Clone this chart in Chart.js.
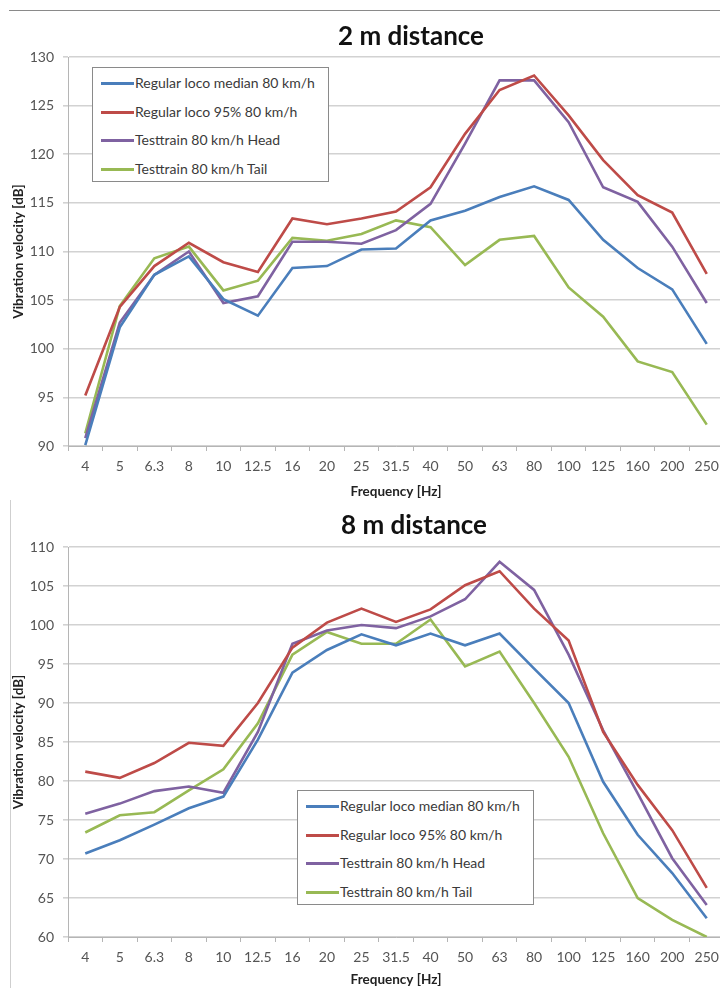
<!DOCTYPE html>
<html>
<head>
<meta charset="utf-8">
<script src="https://cdn.jsdelivr.net/npm/chart.js@4.4.1/dist/chart.umd.min.js"></script>
<style>
  body { margin: 0; width: 720px; height: 988px; overflow: hidden; background: #fff; position: relative; font-family: Lato, "Open Sans", sans-serif; }
  .panel { position: absolute; left: 0; width: 740px; }
  .title { position: absolute; width: 220px; text-align: center; font-weight: bold; font-size: 26px; line-height: 30px; color: #111; }
  .legend { position: absolute; width: 235px; height: 113px; border: 1px solid #8a8a8a; background: #fff; }
  .legend .row { position: absolute; left: 0; height: 20px; line-height: 20px; font-size: 14px; color: #3a3a3a; white-space: nowrap; }
  .legend .swatch { position: absolute; left: 8px; top: 9px; width: 33px; height: 3px; }
  .legend .label { position: absolute; left: 42px; top: 0; }
  .frame-top { position: absolute; left: 9px; top: 10px; width: 711px; height: 0; border-top: 1px solid #8a8a8a; }
  .frame-left { position: absolute; left: 10px; top: 500px; width: 0; height: 488px; border-left: 1px solid #cfcfcf; }
</style>
</head>
<body>
<div class="frame-top"></div>
<div class="frame-left"></div>

<canvas id="chart2m" class="panel" style="top:0" width="740" height="500"></canvas>
<canvas id="chart8m" class="panel" style="top:500px" width="740" height="488"></canvas>

<div class="title" style="left:301px; top:20px">2 m distance</div>
<div class="title" style="left:304px; top:509px">8 m distance</div>

<div id="legend2m" class="legend" style="left:92px; top:67px"></div>
<div id="legend8m" class="legend" style="left:297px; top:790px"></div>

<script>
// third-octave band centre frequencies
const freqLabels = ['4', '5', '6.3', '8', '10', '12.5', '16', '20', '25', '31.5', '40', '50', '63', '80', '100', '125', '160', '200', '250'];

const seriesNames = ['Regular loco median 80 km/h', 'Regular loco 95% 80 km/h', 'Testtrain 80 km/h Head', 'Testtrain 80 km/h Tail'];
const seriesColors = ['#4a7ebb', '#be4b48', '#7f62a1', '#98b954'];

// 2 m distance, vibration velocity [dB]
const median2m = [90.1, 102.2, 107.6, 109.5, 105.1, 103.4, 108.3, 108.5, 110.2, 110.3, 113.2, 114.2, 115.6, 116.7, 115.3, 111.2, 108.3, 106.1, 100.5];
const p95_2m   = [95.2, 104.3, 108.5, 110.9, 108.9, 107.9, 113.4, 112.8, 113.4, 114.1, 116.6, 122.1, 126.6, 128.1, 124.0, 119.4, 115.8, 114.0, 107.7];
const head2m   = [90.8, 102.7, 107.6, 110.0, 104.7, 105.4, 111.0, 111.0, 110.8, 112.2, 114.9, 121.1, 127.6, 127.6, 123.3, 116.6, 115.1, 110.5, 104.7];
const tail2m   = [91.3, 104.4, 109.3, 110.5, 106.0, 107.0, 111.4, 111.1, 111.8, 113.2, 112.5, 108.6, 111.2, 111.6, 106.3, 103.3, 98.7, 97.6, 92.2];

// 8 m distance, vibration velocity [dB]
const median8m = [70.7, 72.4, 74.4, 76.5, 78.0, 85.3, 93.9, 96.8, 98.8, 97.4, 98.9, 97.4, 98.9, 94.4, 90.0, 79.9, 73.1, 68.2, 62.4];
const p95_8m   = [81.2, 80.4, 82.3, 84.9, 84.5, 90.0, 97.1, 100.3, 102.1, 100.4, 102.0, 105.1, 106.9, 102.1, 98.0, 86.3, 79.5, 73.7, 66.3];
const head8m   = [75.8, 77.1, 78.7, 79.3, 78.5, 86.3, 97.6, 99.3, 100.0, 99.6, 101.1, 103.3, 108.1, 104.5, 96.2, 86.5, 78.4, 70.1, 64.1];
const tail8m   = [73.4, 75.6, 76.0, 78.8, 81.5, 87.4, 96.2, 99.1, 97.6, 97.6, 100.7, 94.7, 96.6, 90.0, 83.1, 73.3, 65.0, 62.2, 60.0];

const yRange2m = [90, 130];
const yRange8m = [60, 110];

Chart.defaults.font.family = 'Lato, "Open Sans", sans-serif';
Chart.defaults.animation = false;

function buildLegend(el) {
    seriesNames.forEach((name, i) => {
        const row = document.createElement('div');
        row.className = 'row';
        row.style.top = (5 + i * 28.5) + 'px';
        row.innerHTML = '<span class="swatch" style="background:' + seriesColors[i] + '"></span><span class="label">' + name + '</span>';
        el.appendChild(row);
    });
}

function makeChart(canvasId, series, yRange, opts) {
    const ctx = document.getElementById(canvasId).getContext('2d');
    return new Chart(ctx, {
        type: 'line',
        data: {
            labels: freqLabels,
            datasets: series.map((values, i) => ({
                label: seriesNames[i],
                data: values,
                borderColor: seriesColors[i],
                backgroundColor: seriesColors[i],
                borderWidth: 2.6,
                pointRadius: 0,
                tension: 0
            }))
        },
        options: {
            responsive: false,
            devicePixelRatio: 1,
            layout: { padding: { left: 8, right: 16, top: opts.top, bottom: 0 } },
            plugins: { legend: { display: false }, tooltip: { enabled: false } },
            scales: {
                x: {
                    offset: true,
                    grid: { display: true, offset: true, drawOnChartArea: false, drawTicks: true, tickLength: 5, color: '#b5b5b5' },
                    border: { color: '#b5b5b5', width: 1 },
                    ticks: { color: '#555', font: { size: 14 }, padding: 7, maxRotation: 0, autoSkip: false },
                    title: { display: true, text: 'Frequency [Hz]', color: '#222', font: { size: 13.5, weight: 'bold' }, padding: { top: 0, bottom: 0 } },
                    afterFit: (s) => { s.height = opts.xHeight; }
                },
                y: {
                    min: yRange[0],
                    max: yRange[1],
                    grid: { color: '#d2d2d2', lineWidth: 1.6, tickLength: 5 },
                    border: { color: '#b5b5b5', width: 1 },
                    ticks: { stepSize: 5, color: '#555', font: { size: 14 }, padding: 9 },
                    title: { display: true, text: 'Vibration velocity [dB]', color: '#222', font: { size: 13.5, weight: 'bold' }, padding: { top: 3, bottom: 0 } },
                    afterFit: (s) => { s.width = 60; }
                }
            }
        }
    });
}

makeChart('chart2m', [median2m, p95_2m, head2m, tail2m], yRange2m, { top: 57, xHeight: 54 });
makeChart('chart8m', [median8m, p95_8m, head8m, tail8m], yRange8m, { top: 47, xHeight: 51 });

buildLegend(document.getElementById('legend2m'));
buildLegend(document.getElementById('legend8m'));
</script>
</body>
</html>
